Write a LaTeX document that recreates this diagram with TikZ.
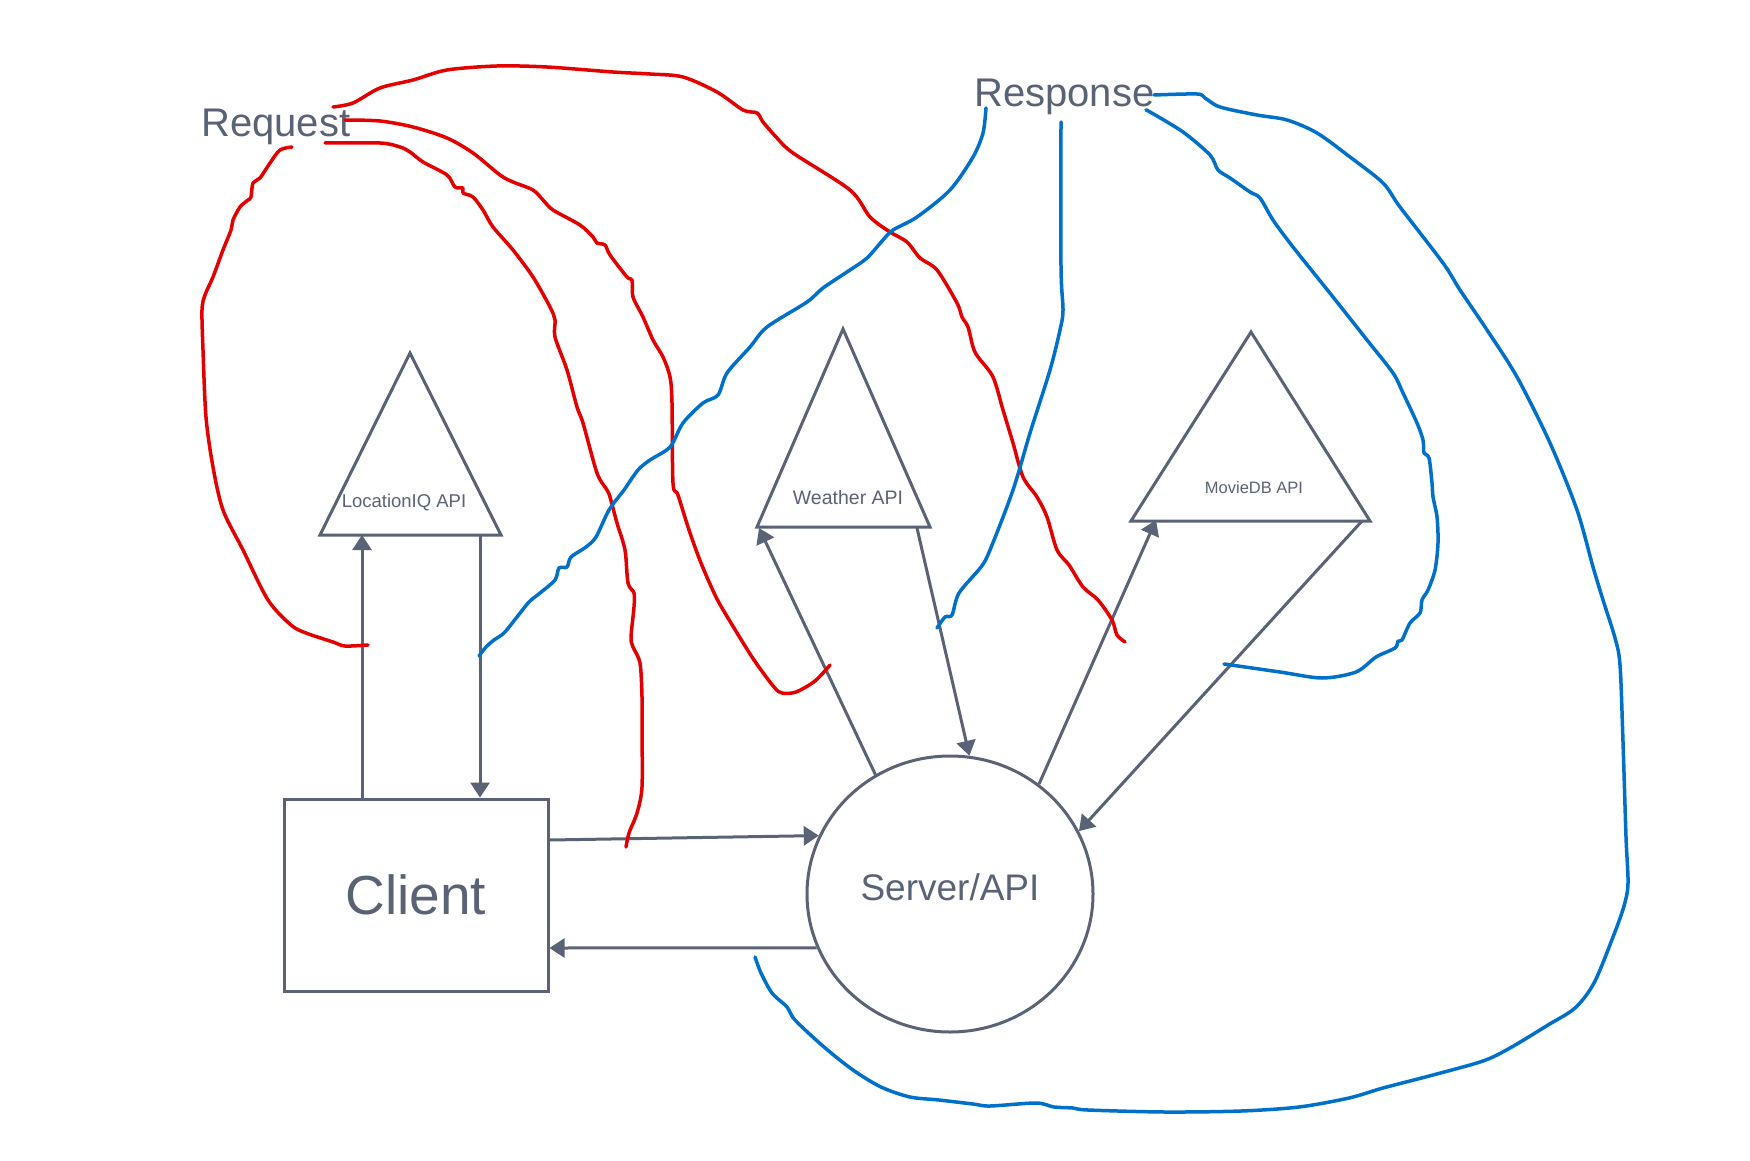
\documentclass[tikz,border=0pt]{standalone}
\usepackage{fontspec}
\setmainfont{Liberation Sans}
\usetikzlibrary{arrows.meta,shapes.geometric}
\definecolor{ink}{RGB}{90,99,118}
\definecolor{redpen}{RGB}{226,0,0}
\definecolor{bluepen}{RGB}{0,112,200}
\begin{document}
\begin{tikzpicture}[x=1pt,y=-1pt,
  arr/.style={draw=ink,line width=3pt,-{Triangle[length=15pt,width=19pt]}},
  apishape/.style={draw=ink,line width=3pt,line join=miter},
  redink/.style={draw=redpen,line width=3.5pt,line cap=round,line join=round},
  blueink/.style={draw=bluepen,line width=3.5pt,line cap=round,line join=round},
  lbl/.style={text=ink,inner sep=0pt}
]
\useasboundingbox[fill=white] (0,0) rectangle (1750,1161);

% ---- main nodes
\node[draw=ink,line width=3pt,minimum width=264pt,minimum height=192pt,inner sep=0pt,
      text=ink,font=\fontsize{55}{60}\selectfont] (client) at (416,895) {Client};
\node[ellipse,draw=ink,line width=3pt,minimum width=286pt,minimum height=276pt,inner sep=0pt] (server) at (950,894) {};
\node[lbl,font=\fontsize{37}{42}\selectfont,anchor=base] (srvtext) at (950,900) {Server/API};

% ---- API triangles
\draw[apishape] (410,353) -- (501,535) -- (320,535) -- cycle;
\node[lbl,font=\fontsize{18.5}{20}\selectfont,anchor=base] (loclbl) at (404,507) {LocationIQ API};
\draw[apishape] (843,329) -- (930,527) -- (757,527) -- cycle;
\node[lbl,font=\fontsize{19.5}{21}\selectfont,anchor=base] (wxlbl) at (848,504) {Weather API};
\draw[apishape] (1251,332) -- (1370,521) -- (1131,521) -- cycle;
\node[lbl,font=\fontsize{16.5}{18}\selectfont,anchor=base] (mvlbl) at (1254,493) {MovieDB API};

\coordinate (locIn) at (362,535);
\coordinate (locOut) at (480,535);
\coordinate (wxIn) at (759,528);
\coordinate (wxOut) at (917,528);
\coordinate (mvIn) at (1156,520);
\coordinate (mvOut) at (1362,521);

% ---- connectors
\draw[arr] (client.north -| locIn) -- (locIn);
\draw[arr] (locOut) -- (client.north -| locOut);
\draw[arr] ([yshift=55pt]client.east) -- (server.156.5);
\draw[arr] (server.202.7) -- ([yshift=-53pt]client.east);
\draw[arr] (server.122.9) -- (wxIn);
\draw[arr] (wxOut) -- (server.82.8);
\draw[arr] (server.51.2) -- (mvIn);
\draw[arr] (mvOut) -- (server.26.6);

% ---- headings
\node[lbl,font=\fontsize{40}{44}\selectfont,anchor=base west] (req) at (201,137) {Request};
\node[lbl,font=\fontsize{40}{44}\selectfont,anchor=base west] (resp) at (974,107) {Response};

% ---- red freehand strokes
\draw[redink] plot[smooth,tension=0.5] coordinates {(292,147) (280,150) (270,163) (260,178) (253,183) (251,197) (248,200) (240,207) (233,220) (231,230) (223,250) (213,277) (205,295) (202,310) (203,350) (206,417) (213,467) (223,510) (243,550) (268,600) (291,625) (306,633) (333,642) (345,646) (368,645)};
\draw[redink] plot[smooth,tension=0.5] coordinates {(325,143) (380,143) (400,147) (410,152) (423,162) (447,175) (455,187) (463,188) (463,193) (473,197) (483,210) (493,227) (513,250) (533,277) (550,307) (555,320) (555,337) (567,370) (577,407) (583,423) (597,473) (607,490) (610,497) (617,523) (625,550) (628,583) (634,593) (634,607) (631,637) (633,647) (640,663) (642,697) (642,730) (642,787) (637,813) (629,833) (626,847)};
\draw[redink] plot[smooth,tension=0.5] coordinates {(345,120) (380,121) (413,127) (447,138) (473,153) (500,175) (513,182) (533,190) (543,200) (553,210) (580,225) (593,237) (597,243) (605,245) (610,255) (627,277) (632,280) (633,297) (643,317) (653,340) (663,357) (670,377) (672,403) (673,483) (678,495) (689,530) (701,563) (716,597) (731,623) (754,660) (774,687) (782,693) (796,692) (815,681) (830,665)};
\draw[redink] plot[smooth,tension=0.5] coordinates {(333,107) (353,103) (380,88) (413,80) (447,70) (497,66) (547,67) (613,72) (650,74) (683,77) (717,92) (743,110) (757,113) (763,122) (777,138) (793,153) (850,190) (870,217) (890,232) (907,242) (920,258) (937,270) (957,303) (962,317) (968,327) (973,347) (978,357) (993,377) (1003,410) (1013,443) (1023,477) (1037,497) (1047,517) (1057,550) (1069,565) (1083,587) (1098,600) (1112,620) (1117,635) (1125,642)};

% ---- blue freehand strokes
\draw[blueink] plot[smooth,tension=0.5] coordinates {(986,108) (983,133) (973,157) (950,190) (917,217) (893,230) (883,240) (867,258) (850,270) (823,288) (807,302) (767,327) (750,347) (727,373) (718,395) (703,403) (683,423) (670,447) (650,460) (638,470) (624,490) (609,510) (596,537) (586,547) (571,557) (567,567) (559,568) (555,580) (540,593) (529,602) (517,617) (504,633) (494,640) (486,647) (479,656)};
\draw[blueink] plot[smooth,tension=0.5] coordinates {(1061,122) (1061,267) (1063,310) (1060,330) (1050,370) (1030,433) (1013,490) (990,550) (981,567) (959,593) (952,615) (945,617) (937,628)};
\draw[blueink] plot[smooth,tension=0.5] coordinates {(1154,95) (1197,94) (1205,98) (1220,107) (1257,115) (1287,120) (1317,133) (1350,157) (1383,183) (1400,207) (1443,263) (1460,290) (1487,330) (1517,377) (1550,443) (1577,510) (1593,567) (1603,600) (1615,638) (1620,665) (1623,742) (1626,837) (1628,883) (1624,906) (1613,937) (1594,983) (1575,1008) (1548,1025) (1510,1048) (1483,1061) (1433,1075) (1383,1088) (1349,1098) (1299,1107) (1241,1111) (1165,1112) (1088,1110) (1073,1108) (1054,1107) (1036,1103) (990,1106) (973,1104) (939,1100) (910,1097) (881,1087) (853,1070) (824,1047) (795,1020) (787,1007) (772,993) (761,973) (755,957)};
\draw[blueink] plot[smooth,tension=0.5] coordinates {(1146,110) (1150,112) (1183,132) (1210,155) (1218,170) (1230,178) (1250,192) (1260,198) (1273,220) (1293,247) (1333,297) (1367,340) (1393,373) (1403,393) (1417,423) (1423,440) (1424,453) (1429,458) (1432,483) (1433,497) (1437,517) (1438,543) (1435,570) (1428,590) (1422,600) (1420,613) (1410,623) (1402,640) (1398,641) (1395,648) (1376,657) (1356,672) (1322,678) (1280,672) (1224,664)};
\end{tikzpicture}
\end{document}
